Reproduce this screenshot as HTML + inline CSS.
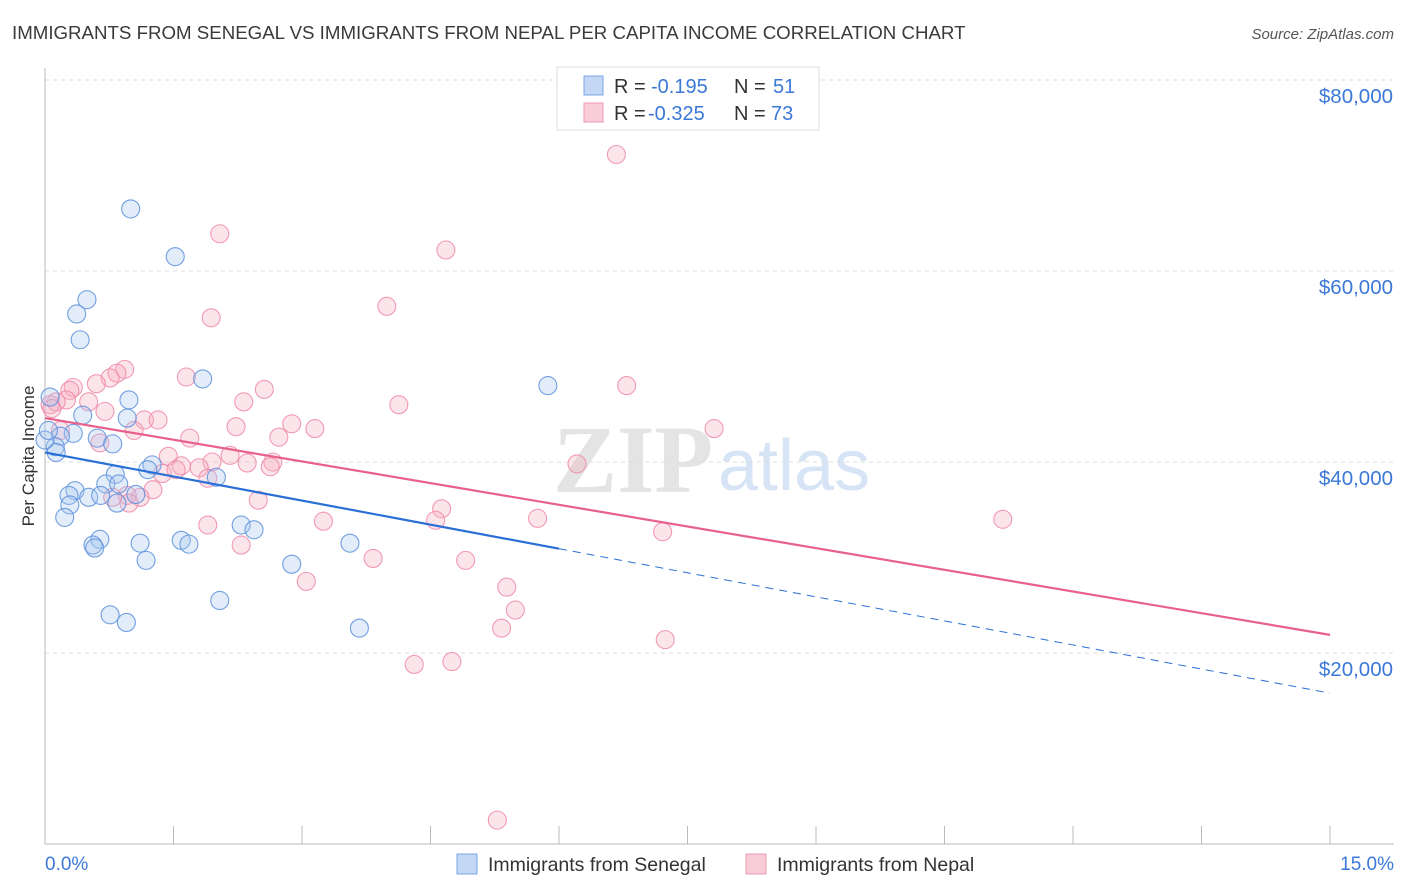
<!DOCTYPE html>
<html><head><meta charset="utf-8"><style>
body{margin:0;background:#fff;font-family:"Liberation Sans",sans-serif}
svg{display:block}
</style></head><body>
<svg width="1406" height="892" xmlns="http://www.w3.org/2000/svg" id="chart">
<text x="12" y="39" font-size="18.7" fill="#3a3a3a">IMMIGRANTS FROM SENEGAL VS IMMIGRANTS FROM NEPAL PER CAPITA INCOME CORRELATION CHART</text>
<text x="1394" y="39" font-size="15" font-style="italic" fill="#555" text-anchor="end">Source: ZipAtlas.com</text>
<g>
<text x="553" y="492" font-family="Liberation Serif,serif" font-size="96" fill="#e4e4e4" font-weight="bold">ZIP</text>
<text x="718" y="490" font-size="72" fill="#d6e4f5">atlas</text>
</g>
<g id="grid"></g>
<g id="axes"></g>
<g id="marks"></g>
<text x="34" y="456" font-size="17" fill="#333" text-anchor="middle" transform="rotate(-90 34 456)">Per Capita Income</text>
<text x="45" y="870" font-size="19" fill="#3b78d8">0.0%</text>
<text x="1394" y="870" font-size="19" fill="#3b78d8" text-anchor="end">15.0%</text>
<g>
<rect x="557" y="67" width="262" height="63" fill="#fff" stroke="#ddd"/>
<rect x="584" y="76" width="19" height="19" fill="#c4d8f5" stroke="#7aa5e6"/>
<rect x="584" y="103" width="19" height="19" fill="#f9ccd9" stroke="#ee9ab2"/>
<g font-size="20" fill="#333">
<text x="614" y="93">R =</text><text x="651" y="93" fill="#3b78d8">-0.195</text><text x="734" y="93">N =</text><text x="773" y="93" fill="#3b78d8">51</text>
<text x="614" y="120">R =</text><text x="648" y="120" fill="#3b78d8">-0.325</text><text x="734" y="120">N =</text><text x="771" y="120" fill="#3b78d8">73</text>
</g>
</g>
<g>
<rect x="457" y="854" width="20" height="20" fill="#c4d8f5" stroke="#7aa5e6"/>
<text x="488" y="871" font-size="19.5" fill="#333">Immigrants from Senegal</text>
<rect x="746" y="854" width="20" height="20" fill="#f9ccd9" stroke="#ee9ab2"/>
<text x="777" y="871" font-size="19.5" fill="#333">Immigrants from Nepal</text>
</g>
</svg>
<script>
const yTicks=[20000,40000,60000,80000];
const yTickLabels=["$20,000","$40,000","$60,000","$80,000"];
const xTicks=[0,1.5,3,4.5,6,7.5,9,10.5,12,13.5,15];
const senegalX=[1.00,1.52,0.49,0.37,0.41,1.84,5.87,0.06,0.98,0.44,0.96,0.33,0.18,0.61,0.79,0.12,0.13,1.25,1.20,0.82,2.00,0.71,0.86,0.35,0.28,0.51,0.65,1.06,0.29,0.84,0.23,2.29,2.44,3.56,0.64,1.11,1.59,1.68,0.56,0.58,1.18,2.88,2.04,0.76,0.95,3.67,0.00,0.04];
const senegalY=[66500,61500,57000,55500,52800,48700,48000,46800,46500,44900,44600,43000,42700,42500,41900,41600,41000,39700,39200,38700,38400,37700,37700,37000,36500,36300,36500,36600,35500,35700,34200,33400,32900,31500,31900,31500,31800,31400,31300,31000,29700,29300,25500,24000,23200,22600,42300,43300];
const nepalX=[6.67,2.04,4.68,1.94,3.99,0.93,0.84,0.76,0.60,0.33,0.29,1.65,2.56,6.79,0.25,0.13,0.51,2.32,0.06,4.13,0.70,1.16,1.32,2.88,3.15,1.04,2.23,2.73,1.69,7.81,1.44,2.16,2.36,2.66,2.63,1.95,6.21,1.59,1.80,1.37,1.53,1.90,1.26,1.11,0.96,0.79,2.49,0.98,4.63,4.56,3.25,5.75,11.18,7.21,1.90,2.29,3.83,4.91,5.39,3.05,5.49,5.33,7.24,4.31,4.75,5.28,0.18,0.08,0.64];
const nepalY=[72200,63900,62200,55100,56300,49700,49300,48800,48200,47800,47500,48900,47600,48000,46500,46300,46300,46300,46000,46000,45300,44400,44400,44000,43500,43300,43700,42600,42500,43500,40600,40700,39900,40000,39500,40000,39800,39600,39400,38800,39200,38300,37100,36300,36500,36300,36000,35700,35100,33900,33800,34100,34000,32700,33400,31300,29900,29700,26900,27500,24500,22600,21400,18800,19100,2500,43300,45600,42000];
const senegalTrend=[41000,15800]; const senegalSolidEnd=6;
const nepalTrend=[44600,21900];
const X0=45,X1=1330,Y0=844,YPX=191/20000;
const sx=v=>X0+(X1-X0)*v/15, sy=v=>Y0-v*YPX;
const NS="http://www.w3.org/2000/svg";
function mk(tag,parent){const e=document.createElementNS(NS,tag);document.getElementById(parent).appendChild(e);return e;}
yTicks.forEach((t,i)=>{
 const l=mk('line','grid');
 
 
 l.setAttribute('x1',X0);l.setAttribute('x2',1394);l.setAttribute('y1',sy(t));l.setAttribute('y2',sy(t));
 l.setAttribute('stroke','#ddd');l.setAttribute('stroke-dasharray','4 4');
 const tx=mk('text','grid');
 
 
 tx.setAttribute('x',1393);tx.setAttribute('y',sy(t)+23);tx.setAttribute('text-anchor','end');
 tx.setAttribute('font-size','20.5');tx.setAttribute('fill','#3b78d8');tx.textContent=yTickLabels[i];
});
{const l=mk('line','grid');l.setAttribute('x1',X0);l.setAttribute('x2',1394);l.setAttribute('y1',80);l.setAttribute('y2',80);l.setAttribute('stroke','#ddd');l.setAttribute('stroke-dasharray','4 4');

}
const ax=mk('line','axes');


ax.setAttribute('x1',X0);ax.setAttribute('x2',1394);ax.setAttribute('y1',Y0);ax.setAttribute('y2',Y0);ax.setAttribute('stroke','#bbb');
const ay=mk('line','axes');


ay.setAttribute('x1',X0);ay.setAttribute('x2',X0);ay.setAttribute('y1',68);ay.setAttribute('y2',Y0);ay.setAttribute('stroke','#bbb');
xTicks.forEach(t=>{const l=mk('line','axes');
 
 
 l.setAttribute('x1',sx(t));l.setAttribute('x2',sx(t));l.setAttribute('y1',826);l.setAttribute('y2',Y0);l.setAttribute('stroke','#bbb');});
function dots(xs,ys,fill,stroke,name){xs.forEach((x,i)=>{const c=mk('circle','marks');
 
 
 c.setAttribute('cx',sx(x));c.setAttribute('cy',sy(ys[i]));c.setAttribute('r',9);
 c.setAttribute('fill',fill);c.setAttribute('fill-opacity','0.32');c.setAttribute('stroke',stroke);c.setAttribute('stroke-opacity','0.85');c.setAttribute('stroke-width','1.1');});}
dots(nepalX,nepalY,'#f5aac0','#ee8aa8','nepal-point');
dots(senegalX,senegalY,'#a9c8f0','#5a8fdc','senegal-point');
function line(x1,y1,x2,y2,col,dash,w,name){const l=mk('line','marks');
 
 
 l.setAttribute('x1',sx(x1));l.setAttribute('y1',sy(y1));l.setAttribute('x2',sx(x2));l.setAttribute('y2',sy(y2));
 l.setAttribute('stroke',col);l.setAttribute('stroke-width',w);if(dash)l.setAttribute('stroke-dasharray',dash);}
const sAt=x=>senegalTrend[0]+(senegalTrend[1]-senegalTrend[0])*x/15;
line(0,nepalTrend[0],15,nepalTrend[1],'#e8608c',null,2.2,'nepal-trendline');
line(0,sAt(0),senegalSolidEnd,sAt(senegalSolidEnd),'#2a6fd6',null,2.2,'senegal-trendline');
line(senegalSolidEnd,sAt(senegalSolidEnd),15,sAt(15),'#2a6fd6','8 6',1,'senegal-trendline-extension');
</script>
</body></html>
